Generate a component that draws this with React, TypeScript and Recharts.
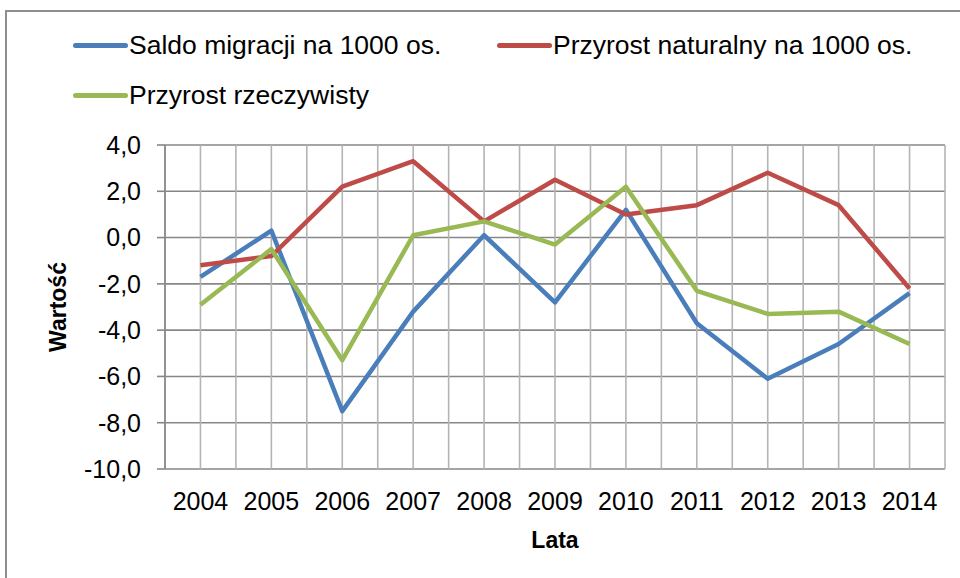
import React from "react";
import { LineChart, Line, XAxis, YAxis, CartesianGrid, Legend, Label } from "recharts";

const YEARS = [2004, 2005, 2006, 2007, 2008, 2009, 2010, 2011, 2012, 2013, 2014];
const SALDO_MIGRACJI = [-1.7, 0.3, -7.5, -3.2, 0.1, -2.8, 1.2, -3.7, -6.1, -4.6, -2.4];
const PRZYROST_NATURALNY = [-1.2, -0.8, 2.2, 3.3, 0.7, 2.5, 1.0, 1.4, 2.8, 1.4, -2.2];
const PRZYROST_RZECZYWISTY = [-2.9, -0.5, -5.3, 0.1, 0.7, -0.3, 2.2, -2.3, -3.3, -3.2, -4.6];
const Y_TICKS = [-10, -8, -6, -4, -2, 0, 2, 4];

const SERIES = [
  { key: "saldo", name: "Saldo migracji na 1000 os.", color: "#4A7EBB", values: SALDO_MIGRACJI },
  { key: "naturalny", name: "Przyrost naturalny na 1000 os.", color: "#BE4B48", values: PRZYROST_NATURALNY },
  { key: "rzeczywisty", name: "Przyrost rzeczywisty", color: "#98B954", values: PRZYROST_RZECZYWISTY },
];

const data = YEARS.map((year, i) => {
  const row: Record<string, number> = { year };
  SERIES.forEach((s) => (row[s.key] = s.values[i]));
  return row;
});

// gridlines at every category and every category boundary
const X_TICKS: number[] = [];
for (let i = 0; i <= YEARS.length * 2; i++) X_TICKS.push(YEARS[0] - 0.5 + i * 0.5);

const FONT = "'Liberation Sans', Arial, sans-serif";

function LegendContent() {
  return (
    <div style={{ display: "flex", flexWrap: "wrap", width: 860, fontFamily: FONT }}>
      {SERIES.map((s) => (
        <div key={s.key} style={{ width: 424, height: 50, display: "flex", alignItems: "center" }}>
          <span
            style={{
              display: "inline-block",
              width: 55,
              height: 5,
              borderRadius: 3,
              background: s.color,
              marginRight: 1,
            }}
          />
          <span style={{ fontSize: 26.5, color: "#000", whiteSpace: "nowrap" }}>{s.name}</span>
        </div>
      ))}
    </div>
  );
}

export default function App() {
  return (
    <div
      style={{
        position: "absolute",
        left: 0,
        top: 0,
        width: 960,
        height: 578,
        overflow: "hidden",
        background: "#fff",
      }}
    >
      <div
        style={{
          position: "absolute",
          left: 5,
          top: 10,
          width: 1100,
          height: 700,
          border: "2px solid #8e8e8e",
        }}
      />
      <div style={{ position: "absolute", left: 0, top: 0 }}>
        <LineChart
          width={960}
          height={578}
          data={data}
          margin={{ top: 145, right: 15, bottom: 0, left: 0 }}
          style={{ fontFamily: FONT }}
        >
          <CartesianGrid vertical={false} stroke="#878787" strokeWidth={1.6} />
          <CartesianGrid horizontal={false} stroke="#b4b4b4" strokeWidth={1.6} />
          <XAxis
            dataKey="year"
            type="number"
            height={109}
            domain={[YEARS[0] - 0.5, YEARS[YEARS.length - 1] + 0.5]}
            ticks={X_TICKS}
            interval={0}
            tickFormatter={(v: number) => (Number.isInteger(v) ? String(v) : "")}
            axisLine={false}
            tickLine={false}
            tickMargin={17}
            tick={{ fill: "#000", fontSize: 25 }}
          >
            <Label
              content={({ viewBox }: any) => (
                <text
                  x={viewBox.x + viewBox.width / 2}
                  y={540}
                  textAnchor="middle"
                  dominantBaseline="central"
                  fontSize={23}
                  fontWeight="bold"
                  fill="#000"
                >
                  Lata
                </text>
              )}
            />
          </XAxis>
          <YAxis
            width={165}
            domain={[-10, 4]}
            ticks={Y_TICKS}
            interval={0}
            tickFormatter={(v: number) => v.toFixed(1).replace(".", ",")}
            axisLine={{ stroke: "#868686", strokeWidth: 1.6 }}
            tickLine={{ stroke: "#868686", strokeWidth: 1.6 }}
            tickSize={8}
            tickMargin={16}
            tick={{ fill: "#000", fontSize: 25 }}
          >
            <Label
              content={({ viewBox }: any) => (
                <text
                  x={58}
                  y={viewBox.y + viewBox.height / 2}
                  textAnchor="middle"
                  dominantBaseline="central"
                  fontSize={23}
                  fontWeight="bold"
                  fill="#000"
                  transform={`rotate(-90, 58, ${viewBox.y + viewBox.height / 2})`}
                >
                  Wartość
                </text>
              )}
            />
          </YAxis>
          <Legend
            layout="horizontal"
            verticalAlign="middle"
            align="center"
            wrapperStyle={{ position: "absolute", left: 73, top: 20, width: 860 }}
            content={() => <LegendContent />}
          />
          {SERIES.map((s) => (
            <Line
              key={s.key}
              dataKey={s.key}
              name={s.name}
              stroke={s.color}
              strokeWidth={4.5}
              strokeLinejoin="round"
              dot={false}
              activeDot={false}
              isAnimationActive={false}
            />
          ))}
        </LineChart>
      </div>
    </div>
  );
}
